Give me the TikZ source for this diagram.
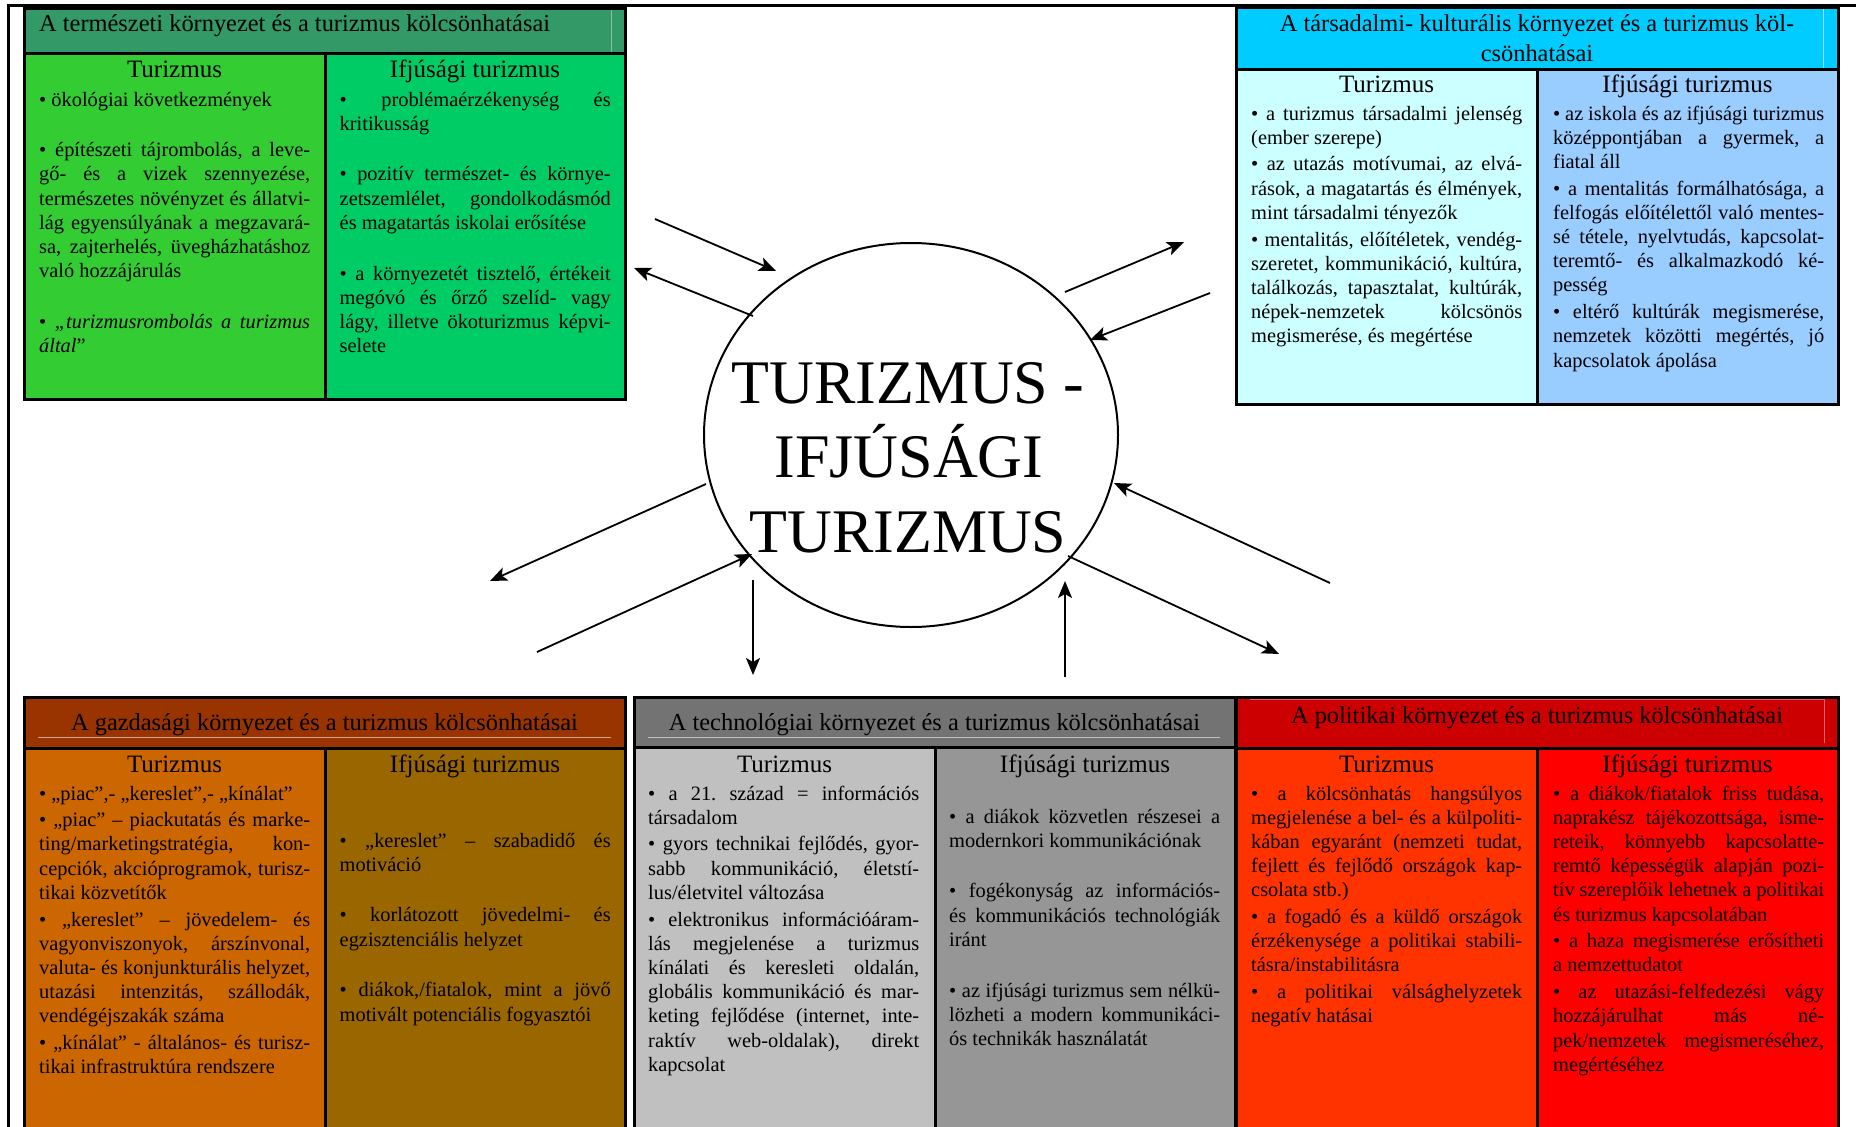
\documentclass[tikz,border=0pt]{standalone}
\usepackage{fontspec}
\setmainfont{Liberation Serif}
\usetikzlibrary{arrows.meta,shapes.geometric}

\definecolor{tlH}{HTML}{339966}\definecolor{tlA}{HTML}{33CC33}\definecolor{tlB}{HTML}{00CC66}
\definecolor{trH}{HTML}{00CCFF}\definecolor{trA}{HTML}{CCFFFF}\definecolor{trB}{HTML}{99CCFF}
\definecolor{blH}{HTML}{993300}\definecolor{blA}{HTML}{CC6600}\definecolor{blB}{HTML}{996600}
\definecolor{bmH}{HTML}{737373}\definecolor{bmA}{HTML}{C0C0C0}\definecolor{bmB}{HTML}{969696}
\definecolor{brH}{HTML}{CC0000}\definecolor{brA}{HTML}{FF3300}\definecolor{brB}{HTML}{FF0000}

\frenchspacing
\newcommand\jl[1]{\hbox to\hsize{#1}}
\newcommand\el[1]{\hbox to\hsize{#1\hfil}}
\newcommand\igap{\vskip2.5pt}
\newcommand\bgap{\vskip26.5pt}
\newcommand\colbody[1]{\vtop{\hsize=271pt\fontsize{20.4}{24.2}\selectfont\frenchspacing\lineskiplimit=-100pt\relax #1}}

\tikzset{
  bord/.style={line width=3pt},
  inline/.style={line width=1pt},
  body/.style={anchor=base west, inner sep=0pt},
  title/.style={anchor=base, inner sep=0pt, font=\fontsize{24.4}{29}\selectfont},
  colhead/.style={anchor=base, inner sep=0pt, font=\fontsize{25}{30}\selectfont},
  ctext/.style={anchor=base, inner sep=0pt, font=\fontsize{62}{74}\selectfont},
  arr/.style={line width=1.8pt, -{Stealth[length=17pt,width=14pt,inset=4pt]}}
}

\begin{document}
\begin{tikzpicture}[x=1pt,y=-1pt]
\useasboundingbox (0,0) rectangle (1856,1127);
\fill[white] (0,0) rectangle (1856,1127);

% outer frame
\draw[line width=3pt] (8.5,1140) -- (8.5,5.5) -- (1870,5.5);

% ---------- top left box ----------
\fill[tlH] (24,8) rectangle (625,53);
\fill[tlA] (24,53) rectangle (325,399);
\fill[tlB] (325,53) rectangle (625,399);
\draw[inline, tlH!60!white] (26,9.5) -- (611,9.5) -- (611,52);
\draw[bord] (24,8) rectangle (625,399) (24,53) -- (625,53) (325,53) -- (325,399);

% ---------- top right box ----------
\fill[trH] (1236,7) rectangle (1838,69);
\fill[trA] (1236,69) rectangle (1537,404);
\fill[trB] (1537,69) rectangle (1838,404);
\draw[inline, trH!45!white] (1823,8) -- (1823,68);
\draw[bord] (1236,7) rectangle (1838,404) (1236,69) -- (1838,69) (1537,69) -- (1537,404);

% ---------- bottom left box ----------
\fill[blH] (24,697) rectangle (625,748);
\fill[blA] (24,748) rectangle (325,1140);
\fill[blB] (325,748) rectangle (625,1140);
\draw[inline, blH!45!white] (38,737) -- (611,737);
\draw[bord] (24,1140) -- (24,697) -- (625,697) -- (625,1140) (24,748) -- (625,748) (325,748) -- (325,1140);

% ---------- bottom middle box ----------
\fill[bmH] (634,697) rectangle (1235,747);
\fill[bmA] (634,747) rectangle (935,1140);
\fill[bmB] (935,747) rectangle (1235,1140);
\draw[inline, bmH!45!white] (648,737) -- (1220,737);
\draw[bord] (634,1140) -- (634,697) -- (1235,697) -- (1235,1140) (634,747) -- (1235,747) (935,747) -- (935,1140);

% ---------- bottom right box ----------
\fill[brH] (1236,697) rectangle (1838,748);
\fill[brA] (1236,748) rectangle (1537,1140);
\fill[brB] (1537,748) rectangle (1838,1140);
\draw[inline, brH!60!white] (1250,699.5) -- (1824,699.5) -- (1824,743);
\draw[bord] (1236,1140) -- (1236,697) -- (1838,697) -- (1838,1140) (1236,748) -- (1838,748) (1537,748) -- (1537,1140);

% ---------- titles ----------
\node[title, anchor=base west] (tlT) at (39,31) {A természeti környezet és a turizmus kölcsönhatásai};
\node[title] (trT1) at (1537,31) {A társadalmi- kulturális környezet és a turizmus köl-};
\node[title] (trT2) at (1537,61) {csönhatásai};
\node[title] (blT) at (324.5,730) {A gazdasági környezet és a turizmus kölcsönhatásai};
\node[title] (bmT) at (934.5,730) {A technológiai környezet és a turizmus kölcsönhatásai};
\node[title] (brT) at (1537,723) {A politikai környezet és a turizmus kölcsönhatásai};

% ---------- column heads ----------
\node[colhead] (tlAh) at (174.5,77) {Turizmus};
\node[colhead] (tlBh) at (475,77) {Ifjúsági turizmus};
\node[colhead] (trAh) at (1386.5,92) {Turizmus};
\node[colhead] (trBh) at (1687.5,92) {Ifjúsági turizmus};
\node[colhead] (blAh) at (174.5,772) {Turizmus};
\node[colhead] (blBh) at (475,772) {Ifjúsági turizmus};
\node[colhead] (bmAh) at (784.5,772) {Turizmus};
\node[colhead] (bmBh) at (1085,772) {Ifjúsági turizmus};
\node[colhead] (brAh) at (1386.5,772) {Turizmus};
\node[colhead] (brBh) at (1687.5,772) {Ifjúsági turizmus};

% ---------- bodies ----------
\node[body] (tlAb) at (39,106) {\colbody{%
\el{• ökológiai következmények}\bgap
\jl{• építészeti tájrombolás, a leve-}
\jl{gő- és a vizek szennyezése,}
\jl{természetes növényzet és állatvi-}
\jl{lág egyensúlyának a megzavará-}
\jl{sa, zajterhelés, üvegházhatáshoz}
\el{való hozzájárulás}\bgap
\jl{• \textit{„turizmusrombolás a turizmus}}
\el{\textit{által}”}}};

\node[body] (tlBb) at (339.5,106) {\colbody{%
\jl{• problémaérzékenység és}
\el{kritikusság}\bgap
\jl{• pozitív természet- és környe-}
\jl{zetszemlélet, gondolkodásmód}
\el{és magatartás iskolai erősítése}\bgap
\jl{• a környezetét tisztelő, értékeit}
\jl{megóvó és őrző szelíd- vagy}
\jl{lágy, illetve ökoturizmus képvi-}
\el{selete}}};

\node[body] (trAb) at (1251,120) {\colbody{%
\jl{• a turizmus társadalmi jelenség}
\el{(ember szerepe)}\igap
\jl{• az utazás motívumai, az elvá-}
\jl{rások, a magatartás és élmények,}
\el{mint társadalmi tényezők}\igap
\jl{• mentalitás, előítéletek, vendég-}
\jl{szeretet, kommunikáció, kultúra,}
\jl{találkozás, tapasztalat, kultúrák,}
\jl{népek-nemzetek kölcsönös}
\el{megismerése, és megértése}}};

\node[body] (trBb) at (1553,120) {\colbody{%
\jl{• az iskola és az ifjúsági turizmus}
\jl{középpontjában a gyermek, a}
\el{fiatal áll}\igap
\jl{• a mentalitás formálhatósága, a}
\jl{felfogás előítélettől való mentes-}
\jl{sé tétele, nyelvtudás, kapcsolat-}
\jl{teremtő- és alkalmazkodó ké-}
\el{pesség}\igap
\jl{• eltérő kultúrák megismerése,}
\jl{nemzetek közötti megértés, jó}
\el{kapcsolatok ápolása}}};

\node[body] (blAb) at (39,800) {\colbody{%
\el{• „piac”,- „kereslet”,- „kínálat”}\igap
\jl{• „piac” – piackutatás és marke-}
\jl{ting/marketingstratégia, kon-}
\jl{cepciók, akcióprogramok, turisz-}
\el{tikai közvetítők}\igap
\jl{• „kereslet” – jövedelem- és}
\jl{vagyonviszonyok, árszínvonal,}
\jl{valuta- és konjunkturális helyzet,}
\jl{utazási intenzitás, szállodák,}
\el{vendégéjszakák száma}\igap
\jl{• „kínálat” - általános- és turisz-}
\el{tikai infrastruktúra rendszere}}};

\node[body] (blBb) at (339.5,847) {\colbody{%
\jl{• „kereslet” – szabadidő és}
\el{motiváció}\bgap
\jl{• korlátozott jövedelmi- és}
\el{egzisztenciális helyzet}\bgap
\jl{• diákok,/fiatalok, mint a jövő}
\el{motivált potenciális fogyasztói}}};

\node[body] (bmAb) at (648,800) {\colbody{%
\jl{• a 21. század = információs}
\el{társadalom}\igap
\jl{• gyors technikai fejlődés, gyor-}
\jl{sabb kommunikáció, életstí-}
\el{lus/életvitel változása}\igap
\jl{• elektronikus információáram-}
\jl{lás megjelenése a turizmus}
\jl{kínálati és keresleti oldalán,}
\jl{globális kommunikáció és mar-}
\jl{keting fejlődése (internet, inte-}
\jl{raktív web-oldalak), direkt}
\el{kapcsolat}}};

\node[body] (bmBb) at (949,823) {\colbody{%
\jl{• a diákok közvetlen részesei a}
\el{modernkori kommunikációnak}\bgap
\jl{• fogékonyság az információs-}
\jl{és kommunikációs technológiák}
\el{iránt}\bgap
\jl{• az ifjúsági turizmus sem nélkü-}
\jl{lözheti a modern kommunikáci-}
\el{ós technikák használatát}}};

\node[body] (brAb) at (1251,800) {\colbody{%
\jl{• a kölcsönhatás hangsúlyos}
\jl{megjelenése a bel- és a külpoliti-}
\jl{kában egyaránt (nemzeti tudat,}
\jl{fejlett és fejlődő országok kap-}
\el{csolata stb.)}\igap
\jl{• a fogadó és a küldő országok}
\jl{érzékenysége a politikai stabili-}
\el{tásra/instabilitásra}\igap
\jl{• a politikai válsághelyzetek}
\el{negatív hatásai}}};

\node[body] (brBb) at (1553,800) {\colbody{%
\jl{• a diákok/fiatalok friss tudása,}
\jl{naprakész tájékozottsága, isme-}
\jl{reteik, könnyebb kapcsolatte-}
\jl{remtő képességük alapján pozi-}
\jl{tív szereplőik lehetnek a politikai}
\el{és turizmus kapcsolatában}\igap
\jl{• a haza megismerése erősítheti}
\el{a nemzettudatot}\igap
\jl{• az utazási-felfedezési vágy}
\jl{hozzájárulhat más né-}
\jl{pek/nemzetek megismeréséhez,}
\el{megértéséhez}}};

% ---------- centre ----------
\node[draw, ellipse, line width=2pt, minimum width=414pt, minimum height=384pt, inner sep=0pt] (ell) at (911,435) {};
\node[ctext] (c1) at (908,403) {TURIZMUS -};
\node[ctext] (c2) at (909,477) {IFJÚSÁGI};
\node[ctext] (c3) at (908,552) {TURIZMUS};

% ---------- arrows ----------
\coordinate (a1s) at (655,219);  \coordinate (a1e) at (776,271);
\coordinate (a2s) at (753,316);  \coordinate (a2e) at (634,268);
\coordinate (a3s) at (1065,292); \coordinate (a3e) at (1184,242);
\coordinate (a4s) at (1210,293); \coordinate (a4e) at (1090,340);
\coordinate (a5s) at (706,484);  \coordinate (a5e) at (490,581);
\coordinate (a6s) at (537,652);  \coordinate (a6e) at (752,554);
\coordinate (a7s) at (753,580);  \coordinate (a7e) at (753,675);
\coordinate (a8s) at (1065,677); \coordinate (a8e) at (1065,581);
\coordinate (a9s) at (1068,556); \coordinate (a9e) at (1279,654);
\coordinate (a10s) at (1330,583); \coordinate (a10e) at (1114,483);
\foreach \i in {1,...,10} {\draw[arr] (a\i s) -- (a\i e);}
\end{tikzpicture}
\end{document}
